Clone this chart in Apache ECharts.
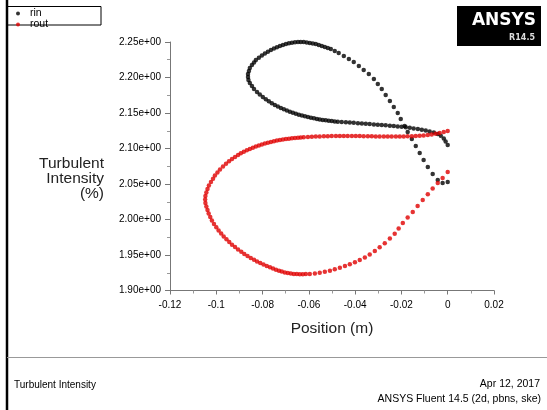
<!DOCTYPE html>
<html><head><meta charset="utf-8">
<script src="https://cdn.jsdelivr.net/npm/echarts@6/dist/echarts.min.js"></script>
<style>html,body{margin:0;padding:0;background:#fff}#c{width:547px;height:410px}</style>
</head><body><div id="c"></div>
<script>
const seriesNames = ['rin', 'rout'];
const rinPos = [0,-0.0022,-0.0043,-0.0065,-0.0086,-0.0104,-0.0121,-0.0138,-0.0155,-0.0173,
-0.0186,-0.0203,-0.0216,-0.0233,-0.0250,-0.0268,-0.0285,-0.0302,-0.0319,-0.0341,
-0.0363,-0.0384,-0.0406,-0.0427,-0.0449,-0.0471,-0.0488,-0.0505,-0.0518,-0.0531,
-0.0544,-0.0557,-0.0570,-0.0583,-0.0596,-0.0609,-0.0622,-0.0635,-0.0647,-0.0660,
-0.0673,-0.0686,-0.0699,-0.0712,-0.0725,-0.0738,-0.0751,-0.0764,-0.0777,-0.0790,
-0.0803,-0.0816,-0.0829,-0.0837,-0.0846,-0.0855,-0.0859,-0.0863,-0.0863,-0.0861,
-0.0855,-0.0846,-0.0837,-0.0824,-0.0812,-0.0799,-0.0786,-0.0773,-0.0760,-0.0747,
-0.0734,-0.0721,-0.0708,-0.0695,-0.0682,-0.0669,-0.0656,-0.0643,-0.0630,-0.0617,
-0.0604,-0.0591,-0.0578,-0.0565,-0.0553,-0.0540,-0.0527,-0.0514,-0.0501,-0.0488,
-0.0475,-0.0458,-0.0440,-0.0423,-0.0406,-0.0388,-0.0371,-0.0354,-0.0337,-0.0319,
-0.0302,-0.0285,-0.0268,-0.0250,-0.0233,-0.0216,-0.0199,-0.0181,-0.0164,-0.0147,
-0.0129,-0.0112,-0.0095,-0.0078,-0.0060,-0.0043,-0.0030,-0.0017,-0.0009,0];
const rinVal = [2.0528,2.0514,2.0556,2.0641,2.0739,2.0838,2.0937,2.1035,2.1134,2.1232,
2.1317,2.1415,2.1500,2.1584,2.1669,2.1753,2.1838,2.1908,2.1979,2.2049,
2.2106,2.2162,2.2218,2.2261,2.2303,2.2345,2.2373,2.2401,2.2415,2.2430,
2.2444,2.2458,2.2472,2.2479,2.2486,2.2493,2.2500,2.2500,2.2500,2.2496,
2.2490,2.2483,2.2472,2.2458,2.2444,2.2427,2.2408,2.2387,2.2363,2.2338,
2.2310,2.2279,2.2246,2.2211,2.2176,2.2134,2.2092,2.2049,2.2007,2.1965,
2.1923,2.1880,2.1838,2.1796,2.1761,2.1725,2.1693,2.1665,2.1638,2.1613,
2.1592,2.1570,2.1552,2.1535,2.1518,2.1503,2.1489,2.1476,2.1465,2.1453,
2.1444,2.1434,2.1425,2.1417,2.1410,2.1403,2.1397,2.1392,2.1386,2.1382,
2.1377,2.1373,2.1369,2.1365,2.1361,2.1356,2.1352,2.1348,2.1344,2.1339,
2.1335,2.1331,2.1327,2.1322,2.1317,2.1311,2.1306,2.1299,2.1292,2.1283,
2.1275,2.1265,2.1253,2.1241,2.1225,2.1204,2.1179,2.1141,2.1099,2.1049];
const routPos = [0,-0.0017,-0.0035,-0.0052,-0.0069,-0.0086,-0.0104,-0.0121,-0.0138,-0.0155,
-0.0173,-0.0190,-0.0207,-0.0224,-0.0242,-0.0259,-0.0276,-0.0294,-0.0311,-0.0328,
-0.0345,-0.0363,-0.0380,-0.0397,-0.0414,-0.0432,-0.0449,-0.0466,-0.0483,-0.0501,
-0.0518,-0.0535,-0.0553,-0.0570,-0.0587,-0.0604,-0.0622,-0.0635,-0.0647,-0.0660,
-0.0673,-0.0686,-0.0699,-0.0712,-0.0725,-0.0738,-0.0751,-0.0764,-0.0777,-0.0790,
-0.0803,-0.0816,-0.0829,-0.0842,-0.0855,-0.0868,-0.0881,-0.0894,-0.0906,-0.0919,
-0.0932,-0.0945,-0.0958,-0.0971,-0.0984,-0.0995,-0.1006,-0.1014,-0.1023,-0.1032,
-0.1038,-0.1043,-0.1047,-0.1048,-0.1047,-0.1043,-0.1038,-0.1033,-0.1026,-0.1019,
-0.1010,-0.1000,-0.0990,-0.0979,-0.0968,-0.0956,-0.0944,-0.0932,-0.0919,-0.0906,
-0.0892,-0.0879,-0.0865,-0.0851,-0.0837,-0.0824,-0.0810,-0.0796,-0.0782,-0.0768,
-0.0755,-0.0742,-0.0729,-0.0717,-0.0704,-0.0691,-0.0678,-0.0665,-0.0652,-0.0639,
-0.0626,-0.0613,-0.0596,-0.0574,-0.0553,-0.0531,-0.0509,-0.0488,-0.0466,-0.0444,
-0.0423,-0.0401,-0.0380,-0.0358,-0.0337,-0.0315,-0.0294,-0.0272,-0.0250,-0.0229,
-0.0212,-0.0194,-0.0173,-0.0151,-0.0130,-0.0108,-0.0086,-0.0065,-0.0043,-0.0022,0];
const routVal = [2.1246,2.1232,2.1218,2.1207,2.1197,2.1190,2.1184,2.1180,2.1176,2.1173,
2.1172,2.1170,2.1169,2.1169,2.1169,2.1169,2.1169,2.1170,2.1170,2.1172,
2.1173,2.1173,2.1175,2.1176,2.1176,2.1176,2.1176,2.1176,2.1176,2.1175,
2.1173,2.1172,2.1170,2.1168,2.1165,2.1162,2.1159,2.1156,2.1153,2.1149,
2.1145,2.1139,2.1134,2.1127,2.1120,2.1111,2.1101,2.1091,2.1080,2.1069,
2.1056,2.1042,2.1027,2.1010,2.0993,2.0975,2.0955,2.0932,2.0908,2.0880,
2.0852,2.0820,2.0784,2.0746,2.0704,2.0662,2.0620,2.0575,2.0528,2.0479,
2.0430,2.0380,2.0331,2.0282,2.0232,2.0183,2.0134,2.0084,2.0035,1.9986,
1.9937,1.9890,1.9845,1.9803,1.9760,1.9721,1.9683,1.9646,1.9611,1.9577,
1.9545,1.9514,1.9486,1.9458,1.9432,1.9408,1.9386,1.9365,1.9345,1.9327,
1.9310,1.9293,1.9279,1.9266,1.9255,1.9246,1.9239,1.9234,1.9231,1.9229,
1.9229,1.9231,1.9234,1.9241,1.9251,1.9263,1.9279,1.9298,1.9321,1.9345,
1.9370,1.9399,1.9429,1.9466,1.9508,1.9556,1.9610,1.9666,1.9731,1.9801,
1.9873,1.9951,2.0028,2.0106,2.0190,2.0275,2.0355,2.0437,2.0514,2.0584,2.0669];
const xTitle = 'Position (m)';
const yTitle = 'Turbulent\nIntensity\n(%)';
const footerLeft = 'Turbulent Intensity';
const footerDate = 'Apr 12, 2017';
const footerSolver = 'ANSYS Fluent 14.5 (2d, pbns, ske)';

const zip = (a, b) => a.map((v, i) => [v, b[i]]);
const font = 'Liberation Sans, Arial, sans-serif';
const chart = echarts.init(document.getElementById('c'), null, {renderer: 'canvas'});
chart.setOption({
  animation: false,
  backgroundColor: '#fff',
  grid: {left: 170, right: 53, top: 42, bottom: 119.5},
  legend: {
    orient: 'vertical', left: 16, top: 8, itemWidth: 4, itemHeight: 4, itemGap: 0,
    padding: 0, icon: 'circle',
    textStyle: {fontFamily: font, fontSize: 10.5, color: '#000', lineHeight: 8.5, padding: [0,0,0,5]},
    data: seriesNames
  },
  xAxis: {
    type: 'value', min: -0.12, max: 0.02, interval: 0.02,
    name: xTitle, nameLocation: 'middle', nameGap: 30,
    nameTextStyle: {fontFamily: font, fontSize: 15.5, color: '#222'},
    axisLine: {onZero: false, lineStyle: {color: '#777', width: 1}},
    axisTick: {length: 4, lineStyle: {color: '#777'}},
    minorTick: {show: true, splitNumber: 2, length: 3, lineStyle: {color: '#999'}},
    splitLine: {show: false},
    axisLabel: {fontFamily: font, fontSize: 10, color: '#000', margin: 10}
  },
  yAxis: {
    type: 'value', min: 1.9, max: 2.25, interval: 0.05,
    axisLine: {show: true, onZero: false, lineStyle: {color: '#777', width: 1}},
    axisTick: {show: true, length: 5, lineStyle: {color: '#777'}},
    minorTick: {show: true, splitNumber: 2, length: 3, lineStyle: {color: '#999'}},
    splitLine: {show: false},
    axisLabel: {fontFamily: font, fontSize: 10, color: '#000', margin: 9,
      formatter: v => v.toFixed(2) + 'e+00'}
  },
  series: [
    {name: seriesNames[0], type: 'scatter', symbol: 'circle', symbolSize: 4.5,
     itemStyle: {color: '#000'}, data: zip(rinPos, rinVal), emphasis: {disabled: true}},
    {name: seriesNames[1], type: 'scatter', symbol: 'circle', symbolSize: 4.5,
     itemStyle: {color: '#e00000'}, data: zip(routPos, routVal), emphasis: {disabled: true}}
  ],
  graphic: [
    {type: 'line', shape: {x1: 7, y1: 0, x2: 7, y2: 410}, style: {stroke: '#000', lineWidth: 2.5}},
    {type: 'rect', shape: {x: 7, y: 6.5, width: 94, height: 18.5}, style: {fill: 'none', stroke: '#000', lineWidth: 1}},
    {type: 'line', shape: {x1: 7, y1: 357.5, x2: 547, y2: 357.5}, style: {stroke: '#999', lineWidth: 1}},
    {type: 'rect', shape: {x: 457, y: 6, width: 84, height: 40}, style: {fill: '#000'}},
    {type: 'text', x: 504, y: 21, style: {text: 'ANSYS', fill: '#fff', font: 'bold 17px "DejaVu Sans", sans-serif', align: 'center', verticalAlign: 'middle'}},
    {type: 'text', x: 535, y: 38, style: {text: 'R14.5', fill: '#ddd', font: 'bold 8px "DejaVu Sans", sans-serif', align: 'right', verticalAlign: 'middle'}},
    {type: 'text', x: 104, y: 179, style: {text: yTitle, fill: '#222', font: '15.5px "Liberation Sans", Arial, sans-serif', align: 'right', verticalAlign: 'middle', lineHeight: 15}},
    {type: 'text', x: 14, y: 385, style: {text: footerLeft, fill: '#000', font: '10px "Liberation Sans", Arial, sans-serif', align: 'left', verticalAlign: 'middle'}},
    {type: 'text', x: 540, y: 384, style: {text: footerDate, fill: '#000', font: '10.5px "Liberation Sans", Arial, sans-serif', align: 'right', verticalAlign: 'middle'}},
    {type: 'text', x: 541, y: 399, style: {text: footerSolver, fill: '#000', font: '10.5px "Liberation Sans", Arial, sans-serif', align: 'right', verticalAlign: 'middle'}}
  ]
});
</script></body></html>
